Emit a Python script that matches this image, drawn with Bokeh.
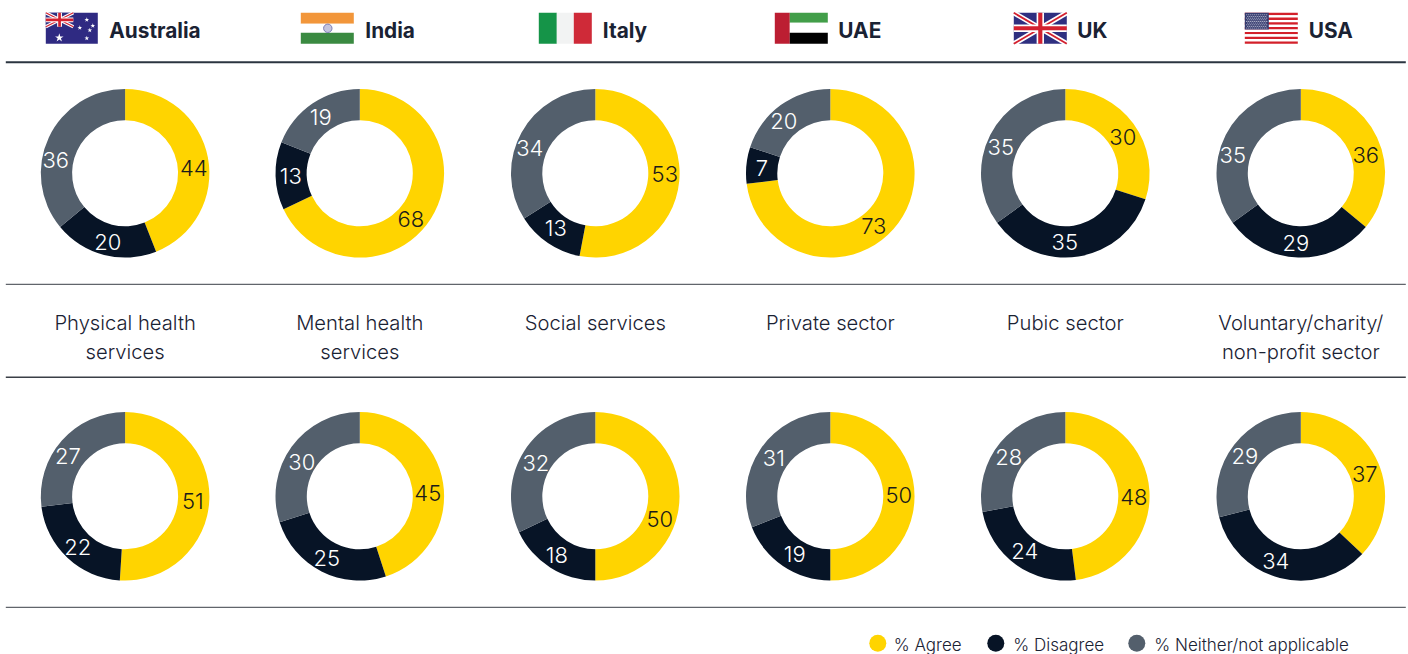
from math import pi
from bokeh.plotting import figure
from bokeh.models import Range1d
from bokeh.core.properties import value
from bokeh.embed import file_html
from bokeh.resources import INLINE

countries = ["Australia", "India", "Italy", "UAE", "UK", "USA"]
sectors = [["Physical health", "services"], ["Mental health", "services"], ["Social services"],
           ["Private sector"], ["Pubic sector"], ["Voluntary/charity/", "non-profit sector"]]
series_names = ["% Agree", "% Disagree", "% Neither/not applicable"]
agree_top = [44, 68, 53, 73, 30, 36]
disagree_top = [20, 13, 13, 7, 35, 29]
neither_top = [36, 19, 34, 20, 35, 35]
agree_bottom = [51, 45, 50, 50, 48, 37]
disagree_bottom = [22, 25, 18, 19, 24, 34]
neither_bottom = [27, 30, 32, 31, 28, 29]

YELLOW, NAVY, GREY = "#FFD400", "#071426", "#535F6C"
COLORS = [YELLOW, NAVY, GREY]
TEXT = "#1A2233"
FONT = value("Inter")
LIGHT = value("Inter Light")
W, H = 1408, 654
OFF = 0.7
CX = [125.3, 360, 595.5, 830.5, 1065.5, 1301]
CY = [173.5, 496.5]
R_OUT, R_IN = 84.3, 53

# hand-placed label centres in the original (x, y) for agree, disagree, neither
LABELS_TOP = [[(194, 168), (108, 242), (56, 160)], [(411, 219), (291, 176), (321, 117)],
              [(665, 174), (556, 228), (530, 148)], [(874, 226), (762, 168), (784, 121)],
              [(1123, 137), (1065, 242), (1001, 147)], [(1366, 155), (1296, 243), (1233, 155)]]
LABELS_BOTTOM = [[(193, 501), (78, 547), (68, 456)], [(428, 493), (327, 558), (302, 462)],
                 [(660, 519), (557, 555), (536, 463)], [(899, 495), (795, 554), (774, 458)],
                 [(1134, 497), (1025, 551), (1009, 457)], [(1365, 474), (1276, 561), (1245, 456)]]

def Y(y):
    return H - y

p = figure(width=W, height=H, x_range=Range1d(OFF, W + OFF), y_range=Range1d(-OFF, H - OFF),
           output_backend="svg", toolbar_location=None, min_border=0,
           margin=(0, 0, 0, 0), outline_line_color=None)
p.xaxis.visible = False
p.yaxis.visible = False
p.grid.visible = False

def box(x0, x1, y0, y1, color):
    p.quad(left=x0, right=x1, top=Y(y0), bottom=Y(y1), fill_color=color, line_color=None)

def label(x, y, s, size, color=TEXT, align="center", style="normal", font=FONT):
    p.text(x=[x], y=[Y(y)], text=[s], text_font=font, text_font_size=f"{size}px", text_color=color,
           text_align=align, text_baseline="middle", text_font_style=style)

def donut(cx, cy, vals, labels):
    total = sum(vals)
    cum = 0
    for i, v in enumerate(vals):
        a0 = pi / 2 - 2 * pi * cum / total
        cum += v
        a1 = pi / 2 - 2 * pi * cum / total
        p.annular_wedge(x=[cx], y=[Y(cy)], inner_radius=R_IN, outer_radius=R_OUT, start_angle=a0, end_angle=a1,
                        direction="clock", fill_color=COLORS[i], line_color=None)
    for i, v in enumerate(vals):
        lx, ly = labels[i]
        label(lx, ly, str(v), 22, "#FFFFFF" if i else "#1A1A1A", font=LIGHT)

# rules
for y, w, c in [(62.5, 2, "#2B3540"), (284.5, 1, "#3A3F47"), (377.5, 1.5, "#3A3F47"), (607.5, 1, "#3A3F47")]:
    p.line([6, 1406], [Y(y), Y(y)], line_width=w, line_color=c)

# flags
FT, FB = 13, 44

def union_jack(x0, x1, y0, y1, lw):
    box(x0, x1, y0, y1, "#2F2F80")
    for a, b in [((x0, y0), (x1, y1)), ((x0, y1), (x1, y0))]:
        p.line([a[0], b[0]], [Y(a[1]), Y(b[1])], line_color="#FFFFFF", line_width=lw * 2.2)
        p.line([a[0], b[0]], [Y(a[1]), Y(b[1])], line_color="#D3202F", line_width=lw * 0.8)
    mx, my = (x0 + x1) / 2, (y0 + y1) / 2
    box(mx - lw * 1.6, mx + lw * 1.6, y0, y1, "#FFFFFF")
    box(x0, x1, my - lw * 1.6, my + lw * 1.6, "#FFFFFF")
    box(mx - lw * 0.9, mx + lw * 0.9, y0, y1, "#D3202F")
    box(x0, x1, my - lw * 0.9, my + lw * 0.9, "#D3202F")

# Australia
box(46, 98, FT, FB, "#2F2A82")
union_jack(46, 73.5, FT, 27, 1.5)
p.scatter(x=[59.5], y=[Y(38)], marker="star", size=9, fill_color="#FFFFFF", line_color=None)
p.scatter(x=[87, 93, 80, 90, 87], y=[Y(20), Y(26), Y(28), Y(30.5), Y(38.5)], marker="star", size=5,
          fill_color="#FFFFFF", line_color=None)
# India
box(301, 354, FT, 24, "#F2963A")
box(301, 354, 24, 33, "#FFFFFF")
box(301, 354, 33, FB, "#3A8A41")
p.circle(x=[328], y=[Y(28.5)], radius=4.2, fill_color="#C4C4DE", line_color="#7B7BB5", line_width=1)
# Italy
box(539, 557, FT, FB, "#159448")
box(557, 574, FT, FB, "#F2F3F3")
box(574, 592, FT, FB, "#CF2A38")
# UAE
box(775, 790, FT, FB, "#BC1E32")
box(790, 828, FT, 23, "#429E49")
box(790, 828, 23, 33, "#FFFFFF")
box(790, 828, 33, FB, "#000000")
# UK
union_jack(1014, 1067, FT, FB, 2.3)
# USA
for i in range(13):
    box(1245, 1298, FT + i * 31 / 13, FT + (i + 1) * 31 / 13, "#D3202A" if i % 2 == 0 else "#FFFFFF")
box(1245, 1269, FT, 29.7, "#353B6F")
sx, sy = [], []
for r in range(9):
    for c in range(11 if r % 2 == 0 else 10):
        sx.append(1247 + c * 2 + (0 if r % 2 == 0 else 1))
        sy.append(Y(15 + r * 1.65))
p.scatter(x=sx, y=sy, marker="circle", size=1.1, fill_color="#D8DAE6", line_color=None)

# header text
for x, name in zip([109.5, 365.5, 603, 838.5, 1077.5, 1309], countries):
    label(x, 30.5, name, 20.8, TEXT, "left", "bold")

# sectors
for cx, lines in zip(CX, sectors):
    for i, s in enumerate(lines):
        label(cx, 323 + i * 29, s, 20.2, font=LIGHT)

# donuts
for j in range(6):
    donut(CX[j], CY[0], [agree_top[j], disagree_top[j], neither_top[j]], LABELS_TOP[j])
    donut(CX[j], CY[1], [agree_bottom[j], disagree_bottom[j], neither_bottom[j]], LABELS_BOTTOM[j])

# legend
for mx, tx, name, col in zip([878, 996, 1137], [894, 1013.5, 1154.5], series_names, COLORS):
    p.circle(x=[mx], y=[Y(643.5)], radius=8.5, fill_color=col, line_color=None)
    label(tx, 645, name, 17, TEXT, "left", font=LIGHT)

open("out.html", "w").write(file_html(p, INLINE))
